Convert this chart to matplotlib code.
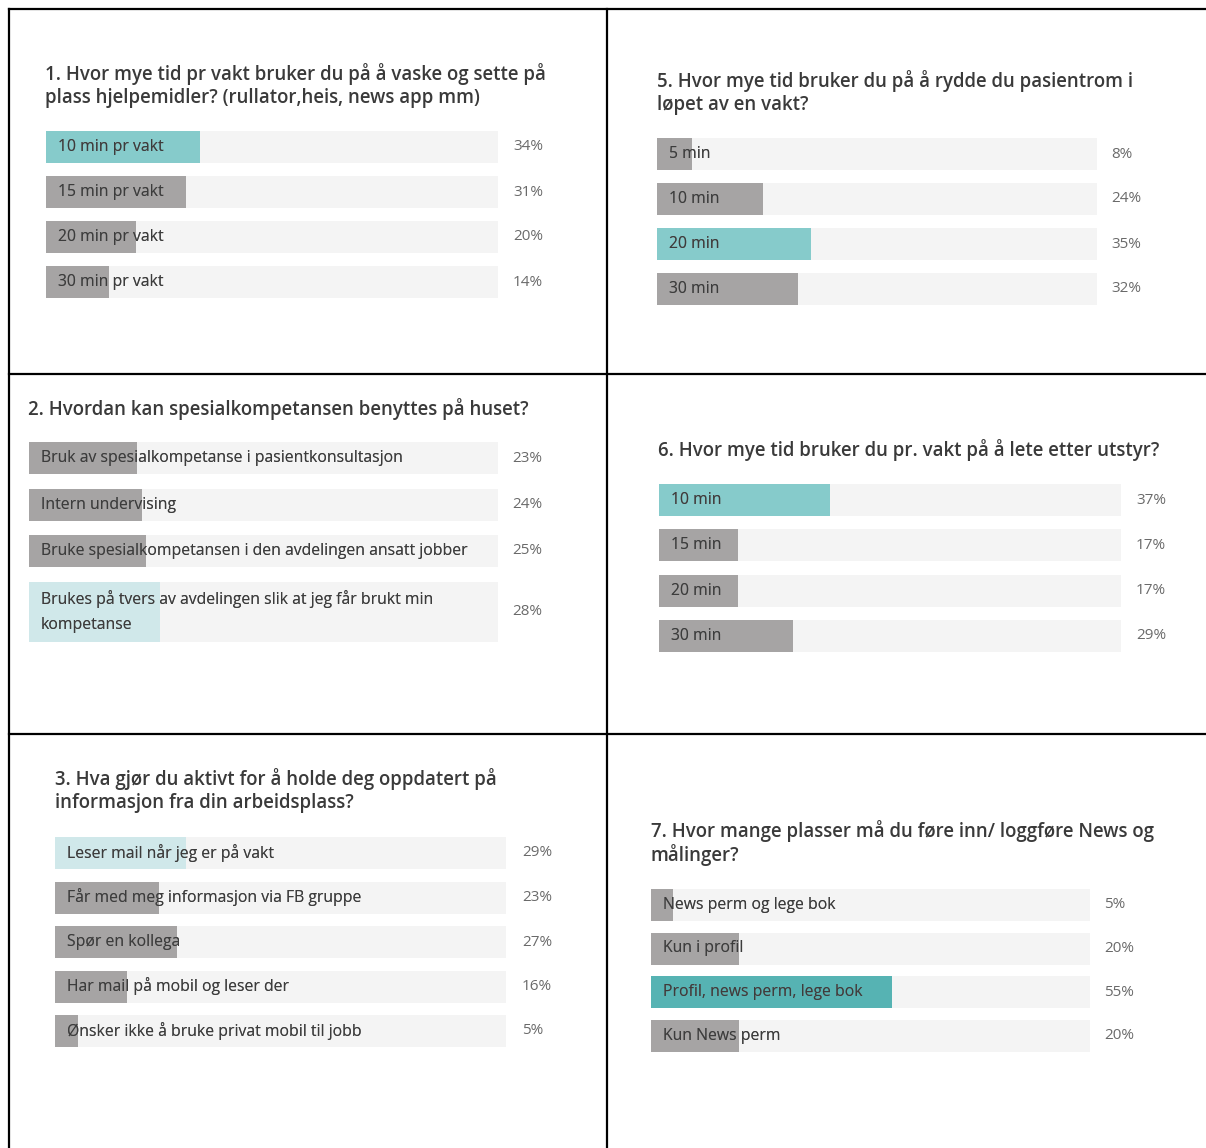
import matplotlib
matplotlib.use("Agg")
from matplotlib import pyplot as plt
from matplotlib.lines import Line2D

plt.rcParams['font.family'] = ['Open Sans', 'DejaVu Sans']

W, H = 1206, 1148  # bildestørrelse i piksler

# ---- data ----
q1_title = ["1. Hvor mye tid pr vakt bruker du på å vaske og sette på",
            "plass hjelpemidler? (rullator,heis, news app mm)"]
q1_labels = ["10 min pr vakt", "15 min pr vakt", "20 min pr vakt", "30 min pr vakt"]
q1_values = [34, 31, 20, 14]

q5_title = ["5. Hvor mye tid bruker du på å rydde du pasientrom i",
            "løpet av en vakt?"]
q5_labels = ["5 min", "10 min", "20 min", "30 min"]
q5_values = [8, 24, 35, 32]

q2_title = ["2. Hvordan kan spesialkompetansen benyttes på huset?"]
q2_labels = ["Bruk av spesialkompetanse i pasientkonsultasjon",
             "Intern undervising",
             "Bruke spesialkompetansen i den avdelingen ansatt jobber",
             "Brukes på tvers av avdelingen slik at jeg får brukt min\nkompetanse"]
q2_values = [23, 24, 25, 28]

q6_title = ["6. Hvor mye tid bruker du pr. vakt på å lete etter utstyr?"]
q6_labels = ["10 min", "15 min", "20 min", "30 min"]
q6_values = [37, 17, 17, 29]

q3_title = ["3. Hva gjør du aktivt for å holde deg oppdatert på",
            "informasjon fra din arbeidsplass?"]
q3_labels = ["Leser mail når jeg er på vakt",
             "Får med meg informasjon via FB gruppe",
             "Spør en kollega",
             "Har mail på mobil og leser der",
             "Ønsker ikke å bruke privat mobil til jobb"]
q3_values = [29, 23, 27, 16, 5]

q7_title = ["7. Hvor mange plasser må du føre inn/ loggføre News og",
            "målinger?"]
q7_labels = ["News perm og lege bok", "Kun i profil",
             "Profil, news perm, lege bok", "Kun News perm"]
q7_values = [5, 20, 55, 20]

# ---- stil ----
TRACK = '#f4f4f4'
GREY = '#a6a4a4'
TEAL = '#86cbcb'
TEAL_DARK = '#56b3b3'
CYAN_LIGHT = '#d0e8ea'
TITLE_C = '#3a3a3a'
LAB_DARK = '#3c3c3c'
LAB_LIGHT = '#6e6e6e'
PCT_C = '#6a6a6a'
BAR_H = 32      # px
LINE_EXTRA = 28  # px ekstra per ekstra tekstlinje

fig = plt.figure(figsize=(W / 100, H / 100), dpi=100)


def fx(x):
    return x / W


def fy(y):
    return 1 - y / H


def panel(title, labels, values, hl, hl_color, title_x, title_y, x0, x1, top, pitch, pct_x):
    # tittel, linje for linje (title_y = senter av siste linje)
    for k, line in enumerate(title):
        yy = title_y - (len(title) - 1 - k) * 24
        fig.text(fx(title_x), fy(yy), line, fontsize=13.4, color=TITLE_C,
                 fontweight='semibold', va='center', ha='left')

    n = len(labels)
    heights = [BAR_H + LINE_EXTRA * lab.count('\n') for lab in labels]
    tops = []
    t = 0
    for h in heights:
        tops.append(t)
        t += h + (pitch - BAR_H)
    total = tops[-1] + heights[-1]
    centers = [tp + h / 2 for tp, h in zip(tops, heights)]

    ax = fig.add_axes([fx(x0), fy(top + total), (x1 - x0) / W, total / H])
    ax.set_xlim(0, 100)
    ax.set_ylim(total, 0)
    ax.axis('off')

    ax.barh(centers, [100] * n, height=heights, color=TRACK)
    colors = [GREY] * n
    colors[hl] = hl_color
    bars = ax.barh(centers, values, height=heights, color=colors)

    pad = 12 / (x1 - x0) * 100
    pct_off = (pct_x - x1) / (x1 - x0) * 100
    for c, lab, v, b in zip(centers, labels, values, bars):
        ax.text(pad, c, lab, fontsize=11.3, color=LAB_LIGHT, va='center',
                ha='left', linespacing=1.75)
        t2 = ax.text(pad, c, lab, fontsize=11.3, color=LAB_DARK, va='center',
                     ha='left', linespacing=1.75)
        t2.set_clip_path(b)
        ax.text(100 + pct_off, c, f'{v}%', fontsize=11, color=PCT_C,
                va='center', ha='left', clip_on=False)


panel(q1_title, q1_labels, q1_values, 0, TEAL, 45, 98, 46, 498, 131, 45, 513)
panel(q5_title, q5_labels, q5_values, 2, TEAL, 657, 105, 657, 1097, 138, 45, 1111)
panel(q2_title, q2_labels, q2_values, 3, CYAN_LIGHT, 28, 409, 29, 498, 442, 46.5, 512)
panel(q6_title, q6_labels, q6_values, 0, TEAL, 658, 450, 659, 1121, 484, 45.3, 1136)
panel(q3_title, q3_labels, q3_values, 0, CYAN_LIGHT, 55, 803, 55, 506, 837, 44.5, 522)
panel(q7_title, q7_labels, q7_values, 2, TEAL_DARK, 651, 855, 651, 1090, 889, 43.5, 1104)

# tabellrammer
grid = [((9, 1206), (9, 9)), ((9, 1206), (374, 374)), ((9, 1206), (734, 734)),
        ((9, 9), (9, 1148)), ((607, 607), (9, 1148))]
for xs, ys in grid:
    fig.add_artist(Line2D([fx(xs[0]), fx(xs[1])], [fy(ys[0]), fy(ys[1])],
                          color='black', lw=1.6, transform=fig.transFigure))

fig.savefig('out.png', dpi=100, facecolor='white')
